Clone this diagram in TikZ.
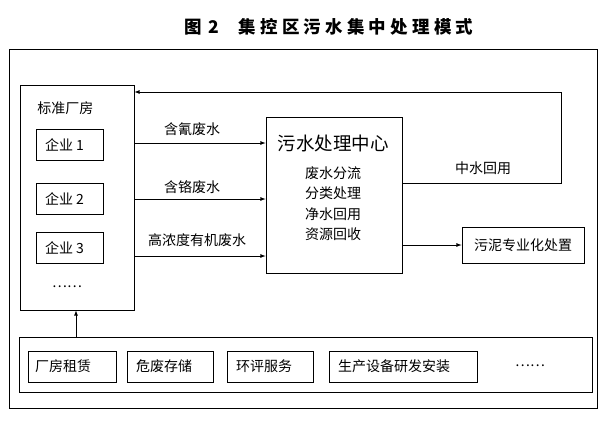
\documentclass[tikz,border=0pt]{standalone}
\usepackage{fontspec}
\setmainfont{Noto Sans CJK SC}
\begin{document}
\begin{tikzpicture}[x=1pt, y=-1pt, line width=0.8pt,
	box/.style={draw, shape=rectangle, inner sep=0pt},
	txt/.style={font=\fontsize{14}{16}\selectfont, inner sep=0pt},
	flow/.style={draw, -latex}]
	\useasboundingbox (0,0) rectangle (602,421);
	\node[inner sep=0pt, font=\fontsize{17.5}{20}\selectfont\bfseries\addfontfeature{LetterSpace=24}] (title) at (329,27) {图\,\,2\hspace{20pt}集控区污水集中处理模式};
	\draw (9,49) rectangle (597,408);
	\node[box, minimum width=114pt, minimum height=225pt] (plant) at (77,197.5){};
	\node[txt, anchor=west] (plantlbl) at (37,108){标准厂房};
	\node[box, minimum width=67pt, minimum height=31pt] (ent1) at (69.5,144.5){};
	\node[txt, anchor=west] at ([xshift=9pt]ent1.west){企业 1};
	\node[box, minimum width=67pt, minimum height=31pt] (ent2) at (69.5,198.5){};
	\node[txt, anchor=west] at ([xshift=9pt]ent2.west){企业 2};
	\node[box, minimum width=67pt, minimum height=31pt] (ent3) at (69.5,247.5){};
	\node[txt, anchor=west] at ([xshift=9pt]ent3.west){企业 3};
	\node[txt] (entdots) at (67,287){……};
	\node[box, minimum width=136pt, minimum height=156pt] (center) at (334,195){};
	\node[inner sep=0pt, font=\fontsize{18.5}{20}\selectfont] (centerlbl) at (333,143){污水处理中心};
	\node[inner sep=0pt, font=\fontsize{14}{20.5}\selectfont, align=center, anchor=north] (steps) at (333,166){废水分流\\分类处理\\净水回用\\资源回收};
	\node[box, minimum width=122pt, minimum height=36pt] (sludge) at (523,245){};
	\node[txt] at (sludge){污泥专业化处置};
	\draw[flow] (plant.east |- 0,143) -- (center.west |- 0,143);
	\draw[flow] (plant.east |- 0,199) -- (center.west |- 0,199);
	\draw[flow] (plant.east |- 0,256) -- (center.west |- 0,256);
	\node[txt] (w1) at (192,129){含氰废水};
	\node[txt] (w2) at (192,187){含铬废水};
	\node[txt] (w3) at (197,240){高浓度有机废水};
	\coordinate (turn) at (561,92);
	\draw[flow] (center.east |- 0,183) -| (turn) -- (plant.east |- turn);
	\node[txt] (reuse) at (483,168){中水回用};
	\draw[flow] (center.east |- sludge) -- (sludge.west);
	\node[box, minimum width=573pt, minimum height=55pt] (service) at (305.5,364.5){};
	\node[box, minimum width=88pt, minimum height=31pt] (s1) at (72,366.5){};
	\node[txt, anchor=west] at ([xshift=7pt]s1.west){厂房租赁};
	\node[box, minimum width=86pt, minimum height=31pt] (s2) at (170,366.5){};
	\node[txt, anchor=west] at ([xshift=9pt]s2.west){危废存储};
	\node[box, minimum width=86pt, minimum height=31pt] (s3) at (270,366.5){};
	\node[txt, anchor=west] at ([xshift=9pt]s3.west){环评服务};
	\node[box, minimum width=148pt, minimum height=31pt] (s4) at (403,366.5){};
	\node[txt, anchor=west] at ([xshift=9pt]s4.west){生产设备研发安装};
	\node[txt] (sdots) at (530,366){……};
	\draw[flow] (service.north -| 76,0) -- (plant.south -| 76,0);
\end{tikzpicture}
\end{document}
